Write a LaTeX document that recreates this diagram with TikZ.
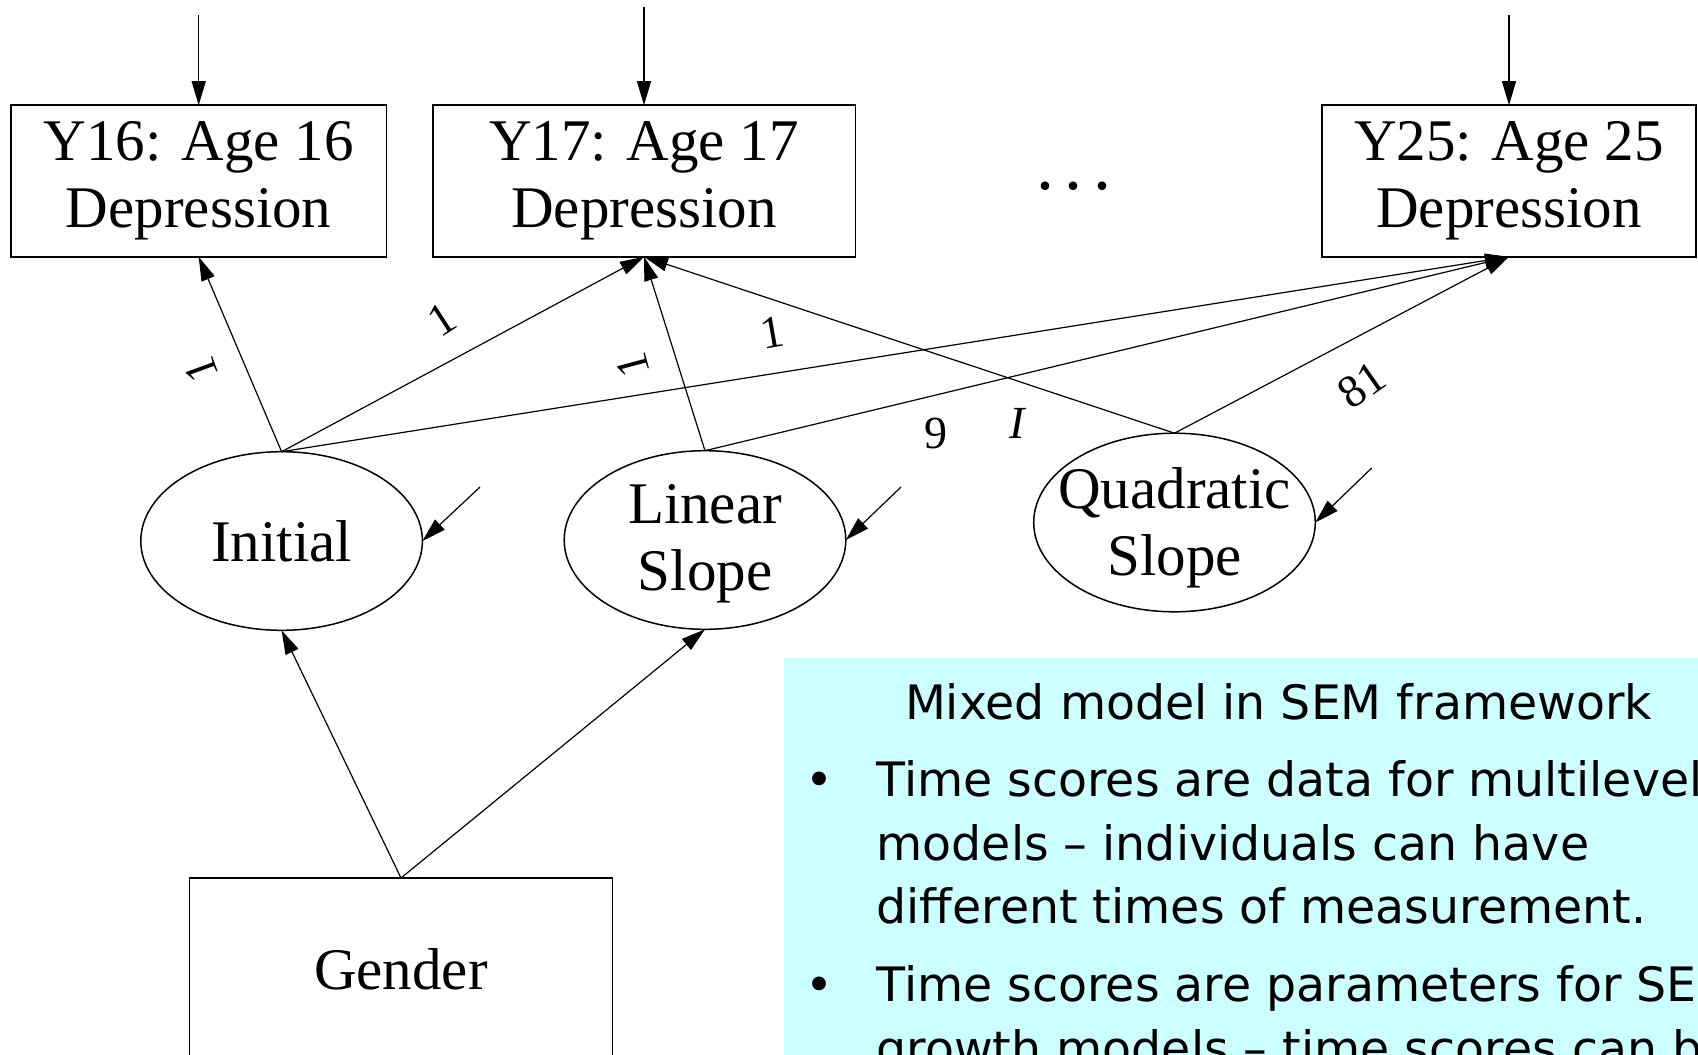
\documentclass[tikz,border=0pt]{standalone}
\usepackage{fontspec}
\setmainfont{Liberation Serif}
\newfontfamily\boxfont{DejaVu Sans}
\usetikzlibrary{arrows.meta,shapes.geometric}
\definecolor{notecyan}{HTML}{CCFFFF}
\begin{document}
\begin{tikzpicture}[x=0.5pt,y=-0.5pt,
  every node/.style={inner sep=0pt,outer sep=0pt},
  obs/.style={draw,line width=0.75pt,minimum height=75.8pt,
    font=\fontsize{29.5}{33.5}\selectfont,align=center},
  latent/.style={draw,line width=0.75pt,ellipse,minimum width=140.8pt,minimum height=89.3pt},
  lattext/.style={font=\fontsize{29.5}{33.5}\selectfont,align=center},
  path/.style={line width=0.6pt,-{Triangle[length=12pt,width=7pt]}},
  elab/.style={font=\fontsize{23}{23}\selectfont},
  note/.style={font=\boxfont\fontsize{23.7}{23.7}\selectfont,anchor=base west}
]
\useasboundingbox (0,0) rectangle (1698,1055);
\clip (0,0) rectangle (1698,1055);

% observed boxes
\node[obs,minimum width=187.9pt] (y16) at (198.7,181) {Y16: Age 16\\Depression};
\node[obs,minimum width=211.25pt] (y17) at (644,181) {Y17: Age 17\\Depression};
\node[obs,minimum width=187pt] (y25) at (1509,181) {Y25: Age 25\\Depression};
\node[font=\fontsize{36}{36}\selectfont,anchor=base] (dots) at (1074,189) {.\hspace{5.5pt}.\hspace{5.5pt}.};

% residual sources
\coordinate (e16) at (198.7,15);
\coordinate (e17) at (644,7);
\coordinate (e25) at (1509,15);
\draw[path] (e16) -- (y16.north);
\draw[path] (e17) -- (y17.north);
\draw[path] (e25) -- (y25.north);

% latent growth factors
\node[latent,label={[lattext]center:Initial}] (init) at (281.6,541) {};
\node[latent,label={[lattext,yshift=-2pt]center:Linear\\Slope}] (lin) at (705,540) {};
\node[latent,label={[lattext,yshift=-2.5pt]center:Quadratic\\Slope}] (quad) at (1174.5,522.5) {};

% disturbances
\coordinate (dinit) at (480,487);
\coordinate (dlin) at (901,487);
\coordinate (dquad) at (1371.7,468);
\draw[path] (dinit) -- (init.east);
\draw[path] (dlin) -- (lin.east);
\draw[path] (dquad) -- (quad.east);

% loadings
\draw[path] (init.north) -- (y16.south);
\draw[path] (init.north) -- (y17.south);
\draw[path] (init.north) -- (y25.south);
\draw[path] (lin.north) -- (y17.south);
\draw[path] (lin.north) -- (y25.south);
\draw[path] (quad.north) -- (y17.south);
\draw[path] (quad.north) -- (y25.south);

% loading labels
\node[elab,rotate=110] (l1) at (201.7,370) {1};
\node[elab,rotate=33] (l2) at (441.7,319) {1};
\node[elab,rotate=105] (l3) at (633,365) {1};
\node[elab,rotate=10] (l4) at (771.7,333) {1};
\node[elab] (l5) at (936,433) {9};
\node[elab] (l6) at (1018,423) {\textit{I}};
\node[elab,rotate=35] (l7) at (1362,385) {81};

% covariate
\node[obs,minimum width=211.3pt,minimum height=91pt,anchor=north] (gender) at (401,878) {Gender};
\draw[path] (gender.north) -- (init.south);
\draw[path] (gender.north) -- (lin.south);

% note box
\fill[notecyan] (783.6,658) rectangle (1698,1055);
\node[note] (t0) at (905,719) {Mixed model in SEM framework};
\node[note] (b1) at (805,796.7) {•};
\node[note] (t1) at (876.6,796.7) {Time scores are data for multilevel};
\node[note] (t2) at (876.6,860) {models – individuals can have};
\node[note] (t3) at (876.6,923) {different times of measurement.};
\node[note] (b2) at (805,1001.7) {•};
\node[note] (t4) at (876.6,1001.7) {Time scores are parameters for SEM};
\node[note] (t5) at (876.6,1065) {growth models – time scores can be};
\end{tikzpicture}
\end{document}
